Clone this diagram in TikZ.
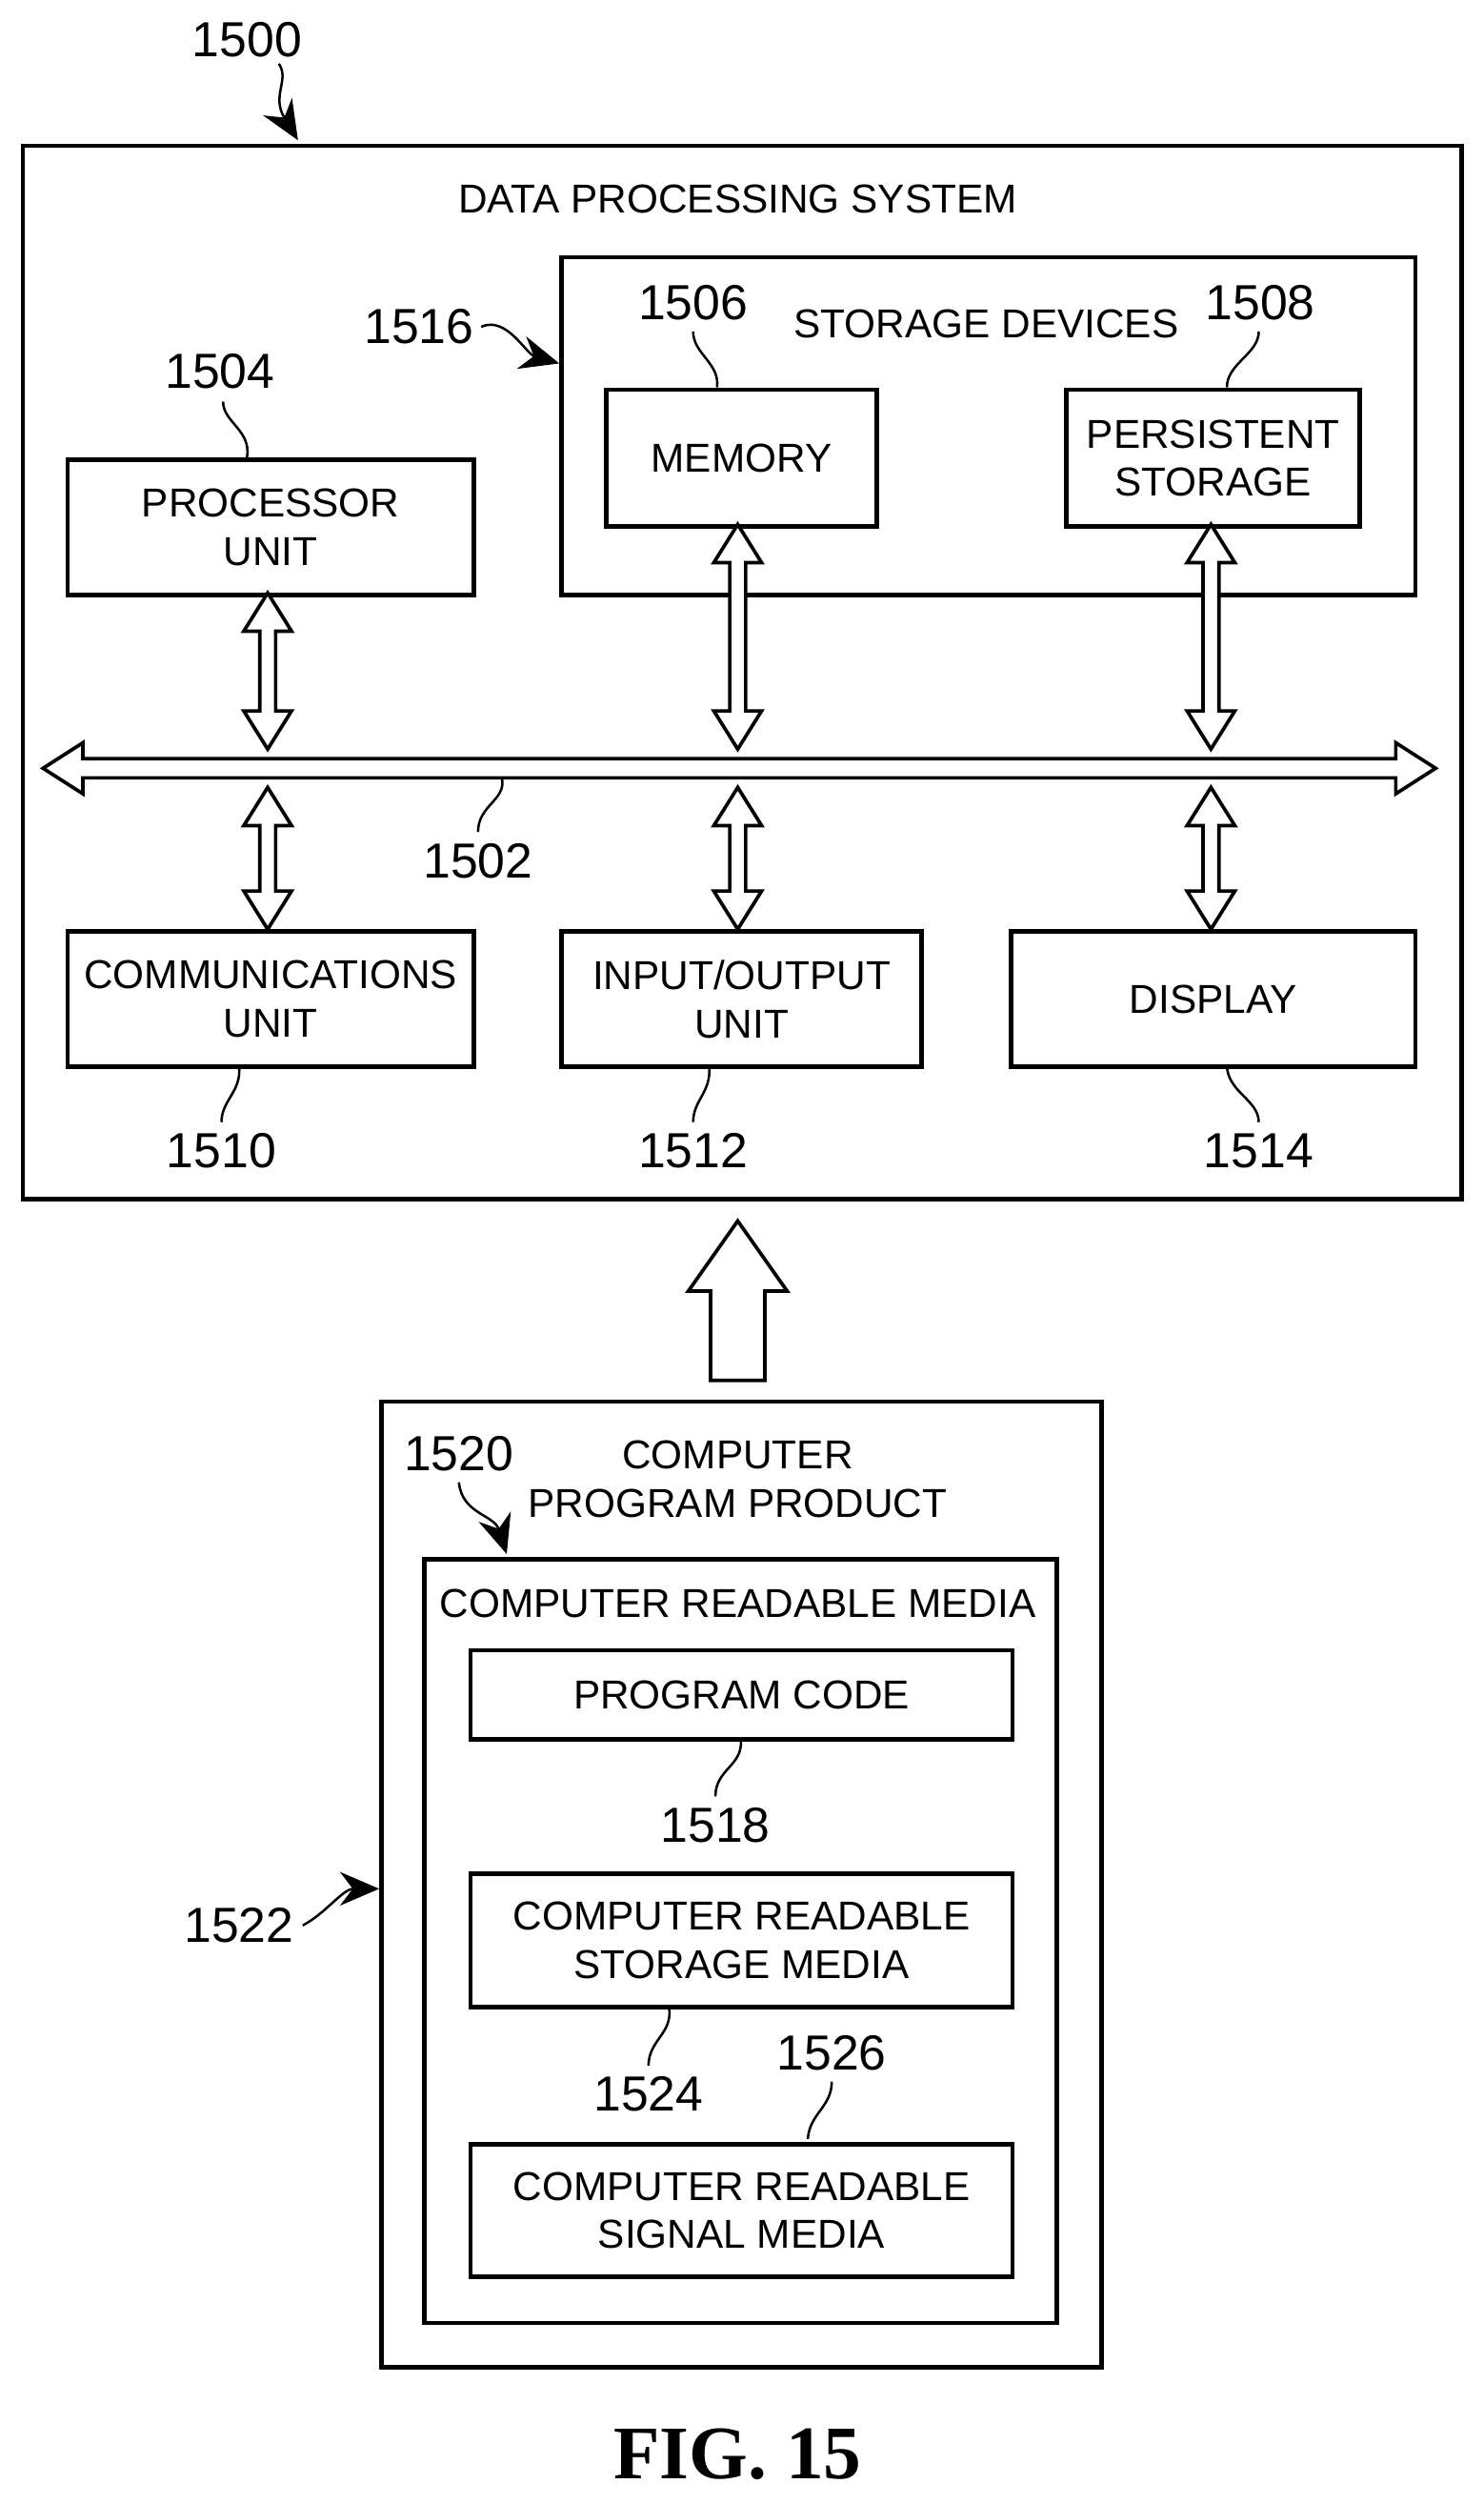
\documentclass[tikz,border=0pt]{standalone}
\usepackage{fontspec}
\setmainfont{Liberation Sans}
\newfontfamily\figfont{Liberation Serif}
\usetikzlibrary{arrows.meta}
\begin{document}
\begin{tikzpicture}[x=0.1mm,y=-0.1mm,
  box/.style={draw,line width=0.28mm,inner sep=0pt},
  txt/.style={font=\fontsize{7.2}{8.6}\selectfont,align=center,inner sep=0pt},
  num/.style={font=\fontsize{8.8}{10}\selectfont,inner sep=0pt},
  lead/.style={line width=0.15mm},
  ha/.style={draw,line width=0.22mm,fill=white,line join=miter}]
\useasboundingbox (0,0) rectangle (931,1571);
\newcommand{\vda}[3]{% x, ytop, ybottom  double-headed hollow arrow
 \draw[ha] (#1,#2) -- (#1+15,#2+24) -- (#1+5,#2+24) -- (#1+5,#3-24) -- (#1+15,#3-24) -- (#1,#3)
   -- (#1-15,#3-24) -- (#1-5,#3-24) -- (#1-5,#2+24) -- (#1-15,#2+24) -- cycle;}
% outer
\node[box,minimum width=90.3mm,minimum height=66.1mm,anchor=north west] (dps) at (13,90) {};
\node[txt] (t1) at (463,125) {DATA PROCESSING SYSTEM};
\node[box,minimum width=53.6mm,minimum height=21.2mm,anchor=north west] (sd) at (351,160) {};
\node[txt] (t2) at (619,203) {STORAGE DEVICES};
\node[box,txt,minimum width=17mm,minimum height=8.6mm,anchor=north west] (mem) at (379,243) {MEMORY};
\node[box,txt,minimum width=18.4mm,minimum height=8.6mm,anchor=north west] (ps) at (668,243) {PERSISTENT\\STORAGE};
\node[box,txt,minimum width=25.5mm,minimum height=8.5mm,anchor=north west] (pu) at (41,287) {PROCESSOR\\UNIT};
\node[box,txt,minimum width=25.5mm,minimum height=8.5mm,anchor=north west] (cu) at (41,583) {COMMUNICATIONS\\UNIT};
\node[box,txt,minimum width=22.6mm,minimum height=8.5mm,anchor=north west] (io) at (351,583) {INPUT/OUTPUT\\UNIT};
\node[box,txt,minimum width=25.4mm,minimum height=8.5mm,anchor=north west] (disp) at (633,583) {DISPLAY};
% bus
\draw[ha] (27,482) -- (52,466) -- (52,476) -- (876,476) -- (876,466) -- (901,482) -- (876,498) -- (876,488) -- (52,488) -- (52,498) -- cycle;
\coordinate (bus) at (463,482);
\vda{168}{372}{470}
\vda{463}{329}{470}
\vda{760}{329}{470}
\vda{168}{494}{583}
\vda{463}{494}{583}
\vda{760}{494}{583}
% numbers
\node[num] (n1500) at (155,25) {1500};
\draw[lead,-{Stealth[length=7,width=6]}] (175,40) .. controls (182,50) and (170,60) .. (187,88);
\node[num] (n1504) at (138,233) {1504};
\draw[lead] (140,252) .. controls (140,265) and (158,270) .. (155,287);
\node[num] (n1506) at (435,190) {1506};
\draw[lead] (435,208) .. controls (435,222) and (452,228) .. (450,243);
\node[num] (n1508) at (791,190) {1508};
\draw[lead] (790,208) .. controls (790,222) and (770,228) .. (770,243);
\node[num] (n1516) at (263,205) {1516};
\draw[lead,-{Stealth[length=7,width=6]}] (302,205) .. controls (318,198) and (330,222) .. (351,228);
\node[num] (n1502) at (300,540) {1502};
\draw[lead] (300,522) .. controls (300,505) and (318,502) .. (315,488);
\node[num] (n1510) at (139,722) {1510};
\draw[lead] (139,704) .. controls (139,690) and (152,685) .. (150,668);
\node[num] (n1512) at (435,722) {1512};
\draw[lead] (435,704) .. controls (435,690) and (447,685) .. (445,668);
\node[num] (n1514) at (790,722) {1514};
\draw[lead] (790,704) .. controls (790,690) and (770,685) .. (770,668);
% big arrow
\draw[ha] (463,766) -- (494,810) -- (480,810) -- (480,866) -- (446,866) -- (446,810) -- (432,810) -- cycle;
% program product
\node[box,minimum width=45.2mm,minimum height=60.6mm,anchor=north west] (cpp) at (238,878) {};
\node[txt] (t3) at (463,928) {COMPUTER\\PROGRAM PRODUCT};
\node[box,minimum width=39.7mm,minimum height=47.9mm,anchor=north west] (crm) at (265,977) {};
\node[txt] (t4) at (463,1006) {COMPUTER READABLE MEDIA};
\node[box,txt,minimum width=34mm,minimum height=5.6mm,anchor=north west] (pc) at (294,1034) {PROGRAM CODE};
\node[box,txt,minimum width=34mm,minimum height=8.4mm,anchor=north west] (crsm) at (294,1174) {COMPUTER READABLE\\STORAGE MEDIA};
\node[box,txt,minimum width=34mm,minimum height=8.3mm,anchor=north west] (crsig) at (294,1344) {COMPUTER READABLE\\SIGNAL MEDIA};
\node[num] (n1520) at (288,912) {1520};
\draw[lead,-{Stealth[length=7,width=6]}] (288,930) .. controls (290,950) and (310,950) .. (318,975);
\node[num] (n1518) at (449,1145) {1518};
\draw[lead] (449,1127) .. controls (449,1110) and (466,1108) .. (465,1092);
\node[num] (n1524) at (407,1314) {1524};
\draw[lead] (407,1296) .. controls (407,1280) and (422,1276) .. (420,1260);
\node[num] (n1526) at (522,1288) {1526};
\draw[lead] (522,1306) .. controls (522,1322) and (508,1326) .. (507,1342);
\node[num] (n1522) at (150,1208) {1522};
\draw[lead,-{Stealth[length=7,width=6]}] (190,1208) .. controls (205,1200) and (215,1185) .. (238,1185);
\node[font=\figfont\bfseries\fontsize{13.5}{15}\selectfont,inner sep=0pt] (fig) at (463,1540) {FIG. 15};
\end{tikzpicture}
\end{document}
